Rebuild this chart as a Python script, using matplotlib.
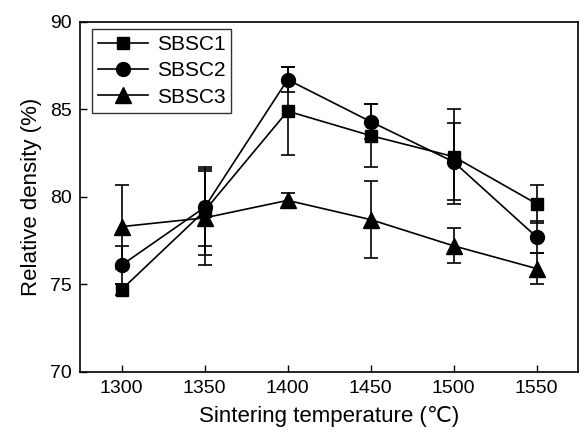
import matplotlib
matplotlib.use("Agg")
import matplotlib.pyplot as plt

plt.rcParams['font.family'] = ['Liberation Sans', 'DejaVu Sans', 'Noto Sans CJK SC']

temps = [1300, 1350, 1400, 1450, 1500, 1550]
sbsc1 = [74.7, 79.2, 84.9, 83.5, 82.3, 79.6]
sbsc1_err = [0.3, 2.5, 2.5, 1.8, 2.7, 1.1]
sbsc2 = [76.1, 79.4, 86.7, 84.3, 82.0, 77.7]
sbsc2_err = [1.1, 2.2, 0.7, 1.0, 2.2, 0.9]
sbsc3 = [78.3, 78.8, 79.8, 78.7, 77.2, 75.9]
sbsc3_err = [2.4, 2.7, 0.4, 2.2, 1.0, 0.9]
labels = ["SBSC1", "SBSC2", "SBSC3"]
xticks = [1300, 1350, 1400, 1450, 1500, 1550]
yticks = [70, 75, 80, 85, 90]

fig = plt.figure(figsize=(5.8, 4.38), dpi=100)
ax = fig.add_axes([0.138, 0.151, 0.859, 0.799])

series = [(sbsc1, sbsc1_err, 's', 9), (sbsc2, sbsc2_err, 'o', 10), (sbsc3, sbsc3_err, '^', 11)]
for (vals, err, mk, ms), lab in zip(series, labels):
    ax.errorbar(temps, vals, yerr=err, color='black', fmt='none',
                elinewidth=1.2, capsize=5, capthick=1.2)
    ax.plot(temps, vals, color='black', marker=mk, markersize=ms,
            linewidth=1.2, label=lab)

ax.set_xlim(1275, 1575)
ax.set_ylim(70, 90)
ax.set_xticks(xticks)
ax.set_yticks(yticks)
ax.tick_params(direction='in', length=5, width=1, labelsize=14, pad=6)
for s in ax.spines.values():
    s.set_linewidth(1.2)

ax.set_xlabel("Sintering temperature (\u2103)", fontsize=16, labelpad=6)
ax.set_ylabel("Relative density (%)", fontsize=16, labelpad=6)

leg = ax.legend(loc='upper left', bbox_to_anchor=(0.024, 0.98), fontsize=15, frameon=True,
                fancybox=False, edgecolor='black', handlelength=2.4, borderpad=0.3,
                labelspacing=0.35, handletextpad=0.4, borderaxespad=0.0)
leg.get_frame().set_linewidth(1.0)

fig.savefig("out.png", dpi=100)
